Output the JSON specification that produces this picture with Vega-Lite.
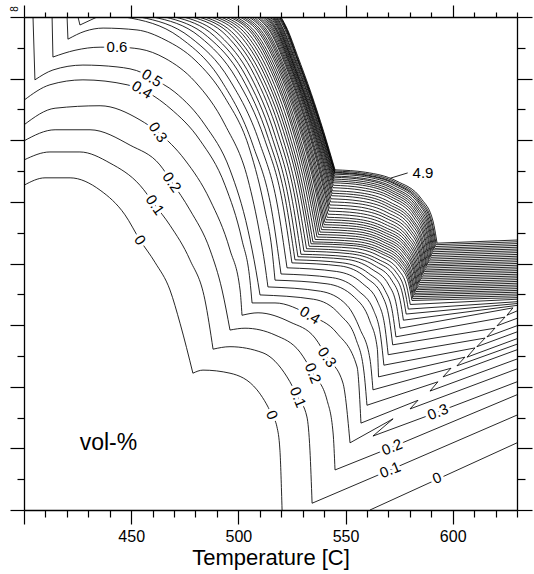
{
"$schema":"https://vega.github.io/schema/vega-lite/v6.json",
"width":493,"height":493,
"autosize":{"type":"none"},
"padding":{"left":24,"top":17,"right":17,"bottom":64},
"background":"white",
"config":{"view":{"stroke":null},"font":"Liberation Sans"},
"datasets":{
"s":[
{"k":"0a","x":400,"y":5.27},{"k":"0a","x":409.8,"y":5.39},{"k":"0a","x":421.5,"y":5.39},{"k":"0a","x":435.5,"y":5.19},{"k":"0a","x":447.1,"y":4.79},{"k":"0a","x":454.1,"y":4.38},{"k":"0a","x":461.1,"y":4.02},{"k":"0a","x":468.1,"y":3.57},{"k":"0a","x":472.8,"y":3.03},{"k":"0a","x":478.8,"y":2.22},
{"k":"0b","x":478.8,"y":2.22},{"k":"0b","x":483.5,"y":2.27},{"k":"0b","x":496.1,"y":2.22},{"k":"0b","x":508.7,"y":1.95},{"k":"0b","x":515.7,"y":1.54},{"k":"0b","x":518,"y":1.35},{"k":"0b","x":519.4,"y":0.97},{"k":"0b","x":520.4,"y":0},
{"k":"0.1a","x":400,"y":5.68},{"k":"0.1a","x":412.1,"y":5.81},{"k":"0.1a","x":426.1,"y":5.81},{"k":"0.1a","x":440.1,"y":5.63},{"k":"0.1a","x":454.1,"y":5.27},{"k":"0.1a","x":461.1,"y":4.95},{"k":"0.1a","x":468.1,"y":4.62},{"k":"0.1a","x":477.4,"y":4.06},{"k":"0.1a","x":484.4,"y":3.41},{"k":"0.1a","x":488.2,"y":2.61},
{"k":"0.1b","x":488.2,"y":2.61},{"k":"0.1b","x":496.1,"y":2.65},{"k":"0.1b","x":511.5,"y":2.55},{"k":"0.1b","x":522.7,"y":2.16},{"k":"0.1b","x":527.8,"y":1.83},{"k":"0.1b","x":532,"y":1.51},{"k":"0.1b","x":533.4,"y":0.97},{"k":"0.1b","x":534.4,"y":0.11},
{"k":"0.2a","x":400,"y":5.99},{"k":"0.2a","x":414.5,"y":6.17},{"k":"0.2a","x":430.8,"y":6.17},{"k":"0.2a","x":449.5,"y":5.92},{"k":"0.2a","x":463.4,"y":5.6},{"k":"0.2a","x":469,"y":5.32},{"k":"0.2a","x":477.4,"y":4.87},{"k":"0.2a","x":486.8,"y":4.22},{"k":"0.2a","x":492.4,"y":3.57},{"k":"0.2a","x":496.1,"y":2.92},
{"k":"0.2b","x":496.1,"y":2.92},{"k":"0.2b","x":503.1,"y":2.95},{"k":"0.2b","x":517.1,"y":2.84},{"k":"0.2b","x":528.8,"y":2.56},{"k":"0.2b","x":534.8,"y":2.22},{"k":"0.2b","x":541.4,"y":1.78},{"k":"0.2b","x":544.2,"y":1.25},{"k":"0.2b","x":545.1,"y":0.65},
{"k":"0.3a","x":400,"y":6.25},{"k":"0.3a","x":414.5,"y":6.52},{"k":"0.3a","x":435.5,"y":6.56},{"k":"0.3a","x":454.1,"y":6.33},{"k":"0.3a","x":462.5,"y":6.13},{"k":"0.3a","x":475.1,"y":5.68},{"k":"0.3a","x":486.8,"y":5.03},{"k":"0.3a","x":496.1,"y":4.22},{"k":"0.3a","x":500.8,"y":3.57},{"k":"0.3a","x":501.7,"y":3.16},
{"k":"0.3b","x":501.7,"y":3.16},{"k":"0.3b","x":509.2,"y":3.2},{"k":"0.3b","x":524.1,"y":3.05},{"k":"0.3b","x":535.8,"y":2.79},{"k":"0.3b","x":541.4,"y":2.48},{"k":"0.3b","x":548.8,"y":2.06},{"k":"0.3b","x":552.1,"y":1.09},
{"k":"0.4a","x":400,"y":6.65},{"k":"0.4a","x":412.1,"y":6.9},{"k":"0.4a","x":427.5,"y":6.98},{"k":"0.4a","x":448.1,"y":6.9},{"k":"0.4a","x":455.1,"y":6.82},{"k":"0.4a","x":468.1,"y":6.52},{"k":"0.4a","x":482.1,"y":6},{"k":"0.4a","x":493.8,"y":5.27},{"k":"0.4a","x":501.7,"y":4.38},{"k":"0.4a","x":505.4,"y":3.73},{"k":"0.4a","x":506.4,"y":3.36},
{"k":"0.4b","x":506.4,"y":3.36},{"k":"0.4b","x":517.1,"y":3.36},{"k":"0.4b","x":533.4,"y":3.16},{"k":"0.4b","x":546,"y":2.87},{"k":"0.4b","x":555.4,"y":2.32},{"k":"0.4b","x":557.2,"y":1.41},
{"k":"0.5a","x":405.1,"y":6.98},{"k":"0.5a","x":413.5,"y":7.14},{"k":"0.5a","x":427.5,"y":7.22},{"k":"0.5a","x":443.4,"y":7.19},{"k":"0.5a","x":455.5,"y":7.09},{"k":"0.5a","x":459.7,"y":7.01},{"k":"0.5a","x":470.4,"y":6.78},{"k":"0.5a","x":484.4,"y":6.25},{"k":"0.5a","x":496.1,"y":5.52},{"k":"0.5a","x":504.5,"y":4.54},{"k":"0.5a","x":508.2,"y":3.89},{"k":"0.5a","x":510.1,"y":3.49},
{"k":"0.5b","x":510.1,"y":3.49},{"k":"0.5b","x":535.1,"y":3.42},{"k":"0.5b","x":547.4,"y":3.17},{"k":"0.5b","x":554.9,"y":2.77},{"k":"0.5b","x":558.6,"y":2.24},{"k":"0.5b","x":560,"y":1.7},
{"k":"0.6a","x":413.5,"y":7.35},{"k":"0.6a","x":423.8,"y":7.46},{"k":"0.6a","x":435.5,"y":7.51},{"k":"0.6a","x":443.4,"y":7.51},{"k":"0.6a","x":454.1,"y":7.48},{"k":"0.6a","x":465.8,"y":7.33},{"k":"0.6a","x":479.8,"y":6.95},{"k":"0.6a","x":493.8,"y":6.25},{"k":"0.6a","x":504.5,"y":5.36},{"k":"0.6a","x":510.1,"y":4.46},{"k":"0.6a","x":512.4,"y":3.98},{"k":"0.6a","x":513.8,"y":3.62},
{"k":"0.6b","x":513.8,"y":3.62},{"k":"0.6b","x":538.3,"y":3.55},{"k":"0.6b","x":550.7,"y":3.32},{"k":"0.6b","x":556.7,"y":2.94},{"k":"0.6b","x":561.4,"y":2.45},{"k":"0.6b","x":562.8,"y":1.95},
{"k":"0.7a","x":420.5,"y":7.64},{"k":"0.7a","x":428.5,"y":7.77},{"k":"0.7a","x":436.9,"y":7.82},{"k":"0.7a","x":452.7,"y":7.79},{"k":"0.7a","x":465.8,"y":7.63},{"k":"0.7a","x":479.8,"y":7.3},{"k":"0.7a","x":493.8,"y":6.69},{"k":"0.7a","x":505.4,"y":5.84},{"k":"0.7a","x":512.4,"y":4.87},{"k":"0.7a","x":515.7,"y":4.22},{"k":"0.7a","x":517.1,"y":3.73},
{"k":"0.7b","x":517.1,"y":3.73},{"k":"0.7b","x":541.4,"y":3.67},{"k":"0.7b","x":554.2,"y":3.45},{"k":"0.7b","x":561.3,"y":3.07},{"k":"0.7b","x":564.8,"y":2.63},{"k":"0.7b","x":565.4,"y":2.16},
{"k":"0.8a","x":447.1,"y":8},{"k":"0.8a","x":472.6,"y":7.67},{"k":"0.8a","x":492.2,"y":6.96},{"k":"0.8a","x":506.8,"y":5.92},{"k":"0.8a","x":515.5,"y":4.87},{"k":"0.8a","x":519.9,"y":3.83},
{"k":"0.8b","x":519.9,"y":3.83},{"k":"0.8b","x":543.9,"y":3.77},{"k":"0.8b","x":555.9,"y":3.56},{"k":"0.8b","x":563.1,"y":3.24},{"k":"0.8b","x":566.5,"y":2.79},{"k":"0.8b","x":567.9,"y":2.35},
{"k":"0.9a","x":454.1,"y":8},{"k":"0.9a","x":477.6,"y":7.67},{"k":"0.9a","x":495.9,"y":6.98},{"k":"0.9a","x":509.8,"y":5.97},{"k":"0.9a","x":518.2,"y":4.95},{"k":"0.9a","x":522.7,"y":3.93},
{"k":"0.9b","x":522.7,"y":3.93},{"k":"0.9b","x":545.9,"y":3.87},{"k":"0.9b","x":557.8,"y":3.68},{"k":"0.9b","x":565.1,"y":3.37},{"k":"0.9b","x":568.5,"y":2.94},{"k":"0.9b","x":569.9,"y":2.52},
{"k":"1a","x":460.2,"y":8},{"k":"1a","x":482,"y":7.68},{"k":"1a","x":499.1,"y":7},{"k":"1a","x":512.3,"y":6.01},{"k":"1a","x":520.5,"y":5.01},{"k":"1a","x":525,"y":4.01},
{"k":"1b","x":525,"y":4.01},{"k":"1b","x":547.7,"y":3.96},{"k":"1b","x":559.6,"y":3.77},{"k":"1b","x":567.1,"y":3.48},{"k":"1b","x":570.5,"y":3.08},{"k":"1b","x":572,"y":2.68},
{"k":"1.1a","x":465.8,"y":8},{"k":"1.1a","x":485.7,"y":7.68},{"k":"1.1a","x":501.6,"y":7.02},{"k":"1.1a","x":514,"y":6.03},{"k":"1.1a","x":521.9,"y":5.05},{"k":"1.1a","x":526.4,"y":4.06},
{"k":"1.1b","x":526.4,"y":4.06},{"k":"1.1b","x":548.7,"y":4.01},{"k":"1.1b","x":560.8,"y":3.84},{"k":"1.1b","x":568.5,"y":3.56},{"k":"1.1b","x":572,"y":3.19},{"k":"1.1b","x":573.5,"y":2.81},
{"k":"1.2a","x":470.4,"y":8},{"k":"1.2a","x":488.8,"y":7.69},{"k":"1.2a","x":503.7,"y":7.03},{"k":"1.2a","x":515.6,"y":6.06},{"k":"1.2a","x":523.3,"y":5.08},{"k":"1.2a","x":527.8,"y":4.11},
{"k":"1.2b","x":527.8,"y":4.11},{"k":"1.2b","x":549.9,"y":4.07},{"k":"1.2b","x":562.2,"y":3.91},{"k":"1.2b","x":570.2,"y":3.65},{"k":"1.2b","x":573.9,"y":3.3},{"k":"1.2b","x":575.4,"y":2.95},
{"k":"1.3a","x":474.6,"y":8},{"k":"1.3a","x":491.7,"y":7.69},{"k":"1.3a","x":505.7,"y":7.04},{"k":"1.3a","x":517.1,"y":6.08},{"k":"1.3a","x":524.7,"y":5.11},{"k":"1.3a","x":529.2,"y":4.15},
{"k":"1.3b","x":529.2,"y":4.15},{"k":"1.3b","x":550.9,"y":4.11},{"k":"1.3b","x":563.4,"y":3.97},{"k":"1.3b","x":571.7,"y":3.72},{"k":"1.3b","x":575.5,"y":3.4},{"k":"1.3b","x":577,"y":3.08},
{"k":"1.4a","x":478.4,"y":8},{"k":"1.4a","x":494.4,"y":7.7},{"k":"1.4a","x":507.6,"y":7.05},{"k":"1.4a","x":518.6,"y":6.1},{"k":"1.4a","x":526,"y":5.15},{"k":"1.4a","x":530.6,"y":4.2},
{"k":"1.4b","x":530.6,"y":4.2},{"k":"1.4b","x":551.8,"y":4.16},{"k":"1.4b","x":564.4,"y":4.025},{"k":"1.4b","x":572.9,"y":3.79},{"k":"1.4b","x":576.7,"y":3.49},{"k":"1.4b","x":578.3,"y":3.18},
{"k":"1.5a","x":481.6,"y":8},{"k":"1.5a","x":496.7,"y":7.7},{"k":"1.5a","x":509.2,"y":7.06},{"k":"1.5a","x":519.9,"y":6.12},{"k":"1.5a","x":527.1,"y":5.18},{"k":"1.5a","x":531.8,"y":4.24},
{"k":"1.5b","x":531.8,"y":4.24},{"k":"1.5b","x":552.5,"y":4.2},{"k":"1.5b","x":565.1,"y":4.07},{"k":"1.5b","x":573.8,"y":3.85},{"k":"1.5b","x":577.7,"y":3.55},{"k":"1.5b","x":579.3,"y":3.26},
{"k":"1.6a","x":484.4,"y":8},{"k":"1.6a","x":498.6,"y":7.7},{"k":"1.6a","x":510.6,"y":7.07},{"k":"1.6a","x":521.1,"y":6.14},{"k":"1.6a","x":528.3,"y":5.21},{"k":"1.6a","x":533,"y":4.28},
{"k":"1.6b","x":533,"y":4.28},{"k":"1.6b","x":553.2,"y":4.25},{"k":"1.6b","x":565.8,"y":4.12},{"k":"1.6b","x":574.6,"y":3.9},{"k":"1.6b","x":578.6,"y":3.62},{"k":"1.6b","x":580.2,"y":3.335},
{"k":"1.7a","x":487.2,"y":8},{"k":"1.7a","x":500.5,"y":7.71},{"k":"1.7a","x":512,"y":7.08},{"k":"1.7a","x":522.1,"y":6.16},{"k":"1.7a","x":529.1,"y":5.24},{"k":"1.7a","x":533.9,"y":4.32},
{"k":"1.7b","x":533.9,"y":4.32},{"k":"1.7b","x":553.6,"y":4.29},{"k":"1.7b","x":566.4,"y":4.165},{"k":"1.7b","x":575.3,"y":3.95},{"k":"1.7b","x":579.4,"y":3.68},{"k":"1.7b","x":581,"y":3.4},
{"k":"1.8a","x":489.6,"y":8},{"k":"1.8a","x":502.2,"y":7.71},{"k":"1.8a","x":513.1,"y":7.09},{"k":"1.8a","x":523,"y":6.18},{"k":"1.8a","x":530,"y":5.26},{"k":"1.8a","x":534.8,"y":4.35},
{"k":"1.8b","x":534.8,"y":4.35},{"k":"1.8b","x":553.9,"y":4.32},{"k":"1.8b","x":566.6,"y":4.2},{"k":"1.8b","x":575.7,"y":3.98},{"k":"1.8b","x":579.8,"y":3.71},{"k":"1.8b","x":581.4,"y":3.43},
{"k":"1.9a","x":491.9,"y":8},{"k":"1.9a","x":503.8,"y":7.71},{"k":"1.9a","x":514.3,"y":7.1},{"k":"1.9a","x":524,"y":6.2},{"k":"1.9a","x":530.9,"y":5.29},{"k":"1.9a","x":535.8,"y":4.39},
{"k":"1.9b","x":535.8,"y":4.39},{"k":"1.9b","x":554.2,"y":4.36},{"k":"1.9b","x":566.8,"y":4.24},{"k":"1.9b","x":576,"y":4.02},{"k":"1.9b","x":580.1,"y":3.74},{"k":"1.9b","x":581.7,"y":3.46},
{"k":"2a","x":494,"y":8},{"k":"2a","x":505.3,"y":7.71},{"k":"2a","x":515.4,"y":7.11},{"k":"2a","x":524.9,"y":6.22},{"k":"2a","x":531.7,"y":5.32},{"k":"2a","x":536.7,"y":4.43},
{"k":"2b","x":536.7,"y":4.43},{"k":"2b","x":554.5,"y":4.4},{"k":"2b","x":567,"y":4.28},{"k":"2b","x":576.3,"y":4.05},{"k":"2b","x":580.5,"y":3.77},{"k":"2b","x":582.1,"y":3.49},
{"k":"2.1a","x":495.9,"y":8},{"k":"2.1a","x":506.6,"y":7.72},{"k":"2.1a","x":516.2,"y":7.12},{"k":"2.1a","x":525.5,"y":6.235},{"k":"2.1a","x":532.4,"y":5.35},{"k":"2.1a","x":537.4,"y":4.47},
{"k":"2.1b","x":537.4,"y":4.47},{"k":"2.1b","x":554.6,"y":4.44},{"k":"2.1b","x":567.2,"y":4.315},{"k":"2.1b","x":576.6,"y":4.09},{"k":"2.1b","x":580.8,"y":3.8},{"k":"2.1b","x":582.45,"y":3.515},
{"k":"2.2a","x":497.5,"y":8},{"k":"2.2a","x":507.6,"y":7.72},{"k":"2.2a","x":517,"y":7.13},{"k":"2.2a","x":526.2,"y":6.255},{"k":"2.2a","x":533,"y":5.38},{"k":"2.2a","x":538.1,"y":4.51},
{"k":"2.2b","x":538.1,"y":4.51},{"k":"2.2b","x":554.8,"y":4.48},{"k":"2.2b","x":567.4,"y":4.355},{"k":"2.2b","x":576.9,"y":4.12},{"k":"2.2b","x":581.2,"y":3.83},{"k":"2.2b","x":582.8,"y":3.545},
{"k":"2.3a","x":499.1,"y":8},{"k":"2.3a","x":508.7,"y":7.72},{"k":"2.3a","x":517.8,"y":7.14},{"k":"2.3a","x":526.8,"y":6.275},{"k":"2.3a","x":533.6,"y":5.41},{"k":"2.3a","x":538.8,"y":4.55},
{"k":"2.3b","x":538.8,"y":4.55},{"k":"2.3b","x":555,"y":4.52},{"k":"2.3b","x":567.6,"y":4.39},{"k":"2.3b","x":577.3,"y":4.16},{"k":"2.3b","x":581.6,"y":3.87},{"k":"2.3b","x":583.2,"y":3.575},
{"k":"2.4a","x":500.8,"y":8},{"k":"2.4a","x":509.9,"y":7.73},{"k":"2.4a","x":518.6,"y":7.15},{"k":"2.4a","x":527.5,"y":6.295},{"k":"2.4a","x":534.3,"y":5.44},{"k":"2.4a","x":539.5,"y":4.59},
{"k":"2.4b","x":539.5,"y":4.59},{"k":"2.4b","x":555.1,"y":4.56},{"k":"2.4b","x":567.7,"y":4.43},{"k":"2.4b","x":577.6,"y":4.19},{"k":"2.4b","x":581.9,"y":3.9},{"k":"2.4b","x":583.55,"y":3.6},
{"k":"2.5a","x":502.2,"y":8},{"k":"2.5a","x":510.8,"y":7.73},{"k":"2.5a","x":519.2,"y":7.16},{"k":"2.5a","x":528,"y":6.315},{"k":"2.5a","x":534.7,"y":5.47},{"k":"2.5a","x":540,"y":4.63},
{"k":"2.5b","x":540,"y":4.63},{"k":"2.5b","x":555.1,"y":4.6},{"k":"2.5b","x":567.8,"y":4.47},{"k":"2.5b","x":577.8,"y":4.23},{"k":"2.5b","x":582.2,"y":3.93},{"k":"2.5b","x":583.9,"y":3.63},
{"k":"2.6a","x":503.6,"y":8},{"k":"2.6a","x":511.7,"y":7.73},{"k":"2.6a","x":519.8,"y":7.17},{"k":"2.6a","x":528.4,"y":6.335},{"k":"2.6a","x":535.1,"y":5.5},{"k":"2.6a","x":540.4,"y":4.67},
{"k":"2.6b","x":540.4,"y":4.67},{"k":"2.6b","x":555.15,"y":4.64},{"k":"2.6b","x":567.9,"y":4.51},{"k":"2.6b","x":578.1,"y":4.27},{"k":"2.6b","x":582.6,"y":3.96},{"k":"2.6b","x":584.3,"y":3.66},
{"k":"2.7a","x":505,"y":8},{"k":"2.7a","x":512.6,"y":7.74},{"k":"2.7a","x":520.4,"y":7.18},{"k":"2.7a","x":528.9,"y":6.355},{"k":"2.7a","x":535.6,"y":5.53},{"k":"2.7a","x":540.9,"y":4.71},
{"k":"2.7b","x":540.9,"y":4.71},{"k":"2.7b","x":555.2,"y":4.68},{"k":"2.7b","x":568,"y":4.55},{"k":"2.7b","x":578.4,"y":4.3},{"k":"2.7b","x":582.9,"y":4},{"k":"2.7b","x":584.65,"y":3.69},
{"k":"2.8a","x":506.1,"y":8},{"k":"2.8a","x":513.4,"y":7.74},{"k":"2.8a","x":520.9,"y":7.19},{"k":"2.8a","x":529.3,"y":6.375},{"k":"2.8a","x":536,"y":5.56},{"k":"2.8a","x":541.4,"y":4.75},
{"k":"2.8b","x":541.4,"y":4.75},{"k":"2.8b","x":555.3,"y":4.72},{"k":"2.8b","x":568.2,"y":4.59},{"k":"2.8b","x":578.7,"y":4.34},{"k":"2.8b","x":583.3,"y":4.03},{"k":"2.8b","x":585,"y":3.72},
{"k":"2.9a","x":507.3,"y":8},{"k":"2.9a","x":514.2,"y":7.74},{"k":"2.9a","x":521.4,"y":7.2},{"k":"2.9a","x":529.7,"y":6.4},{"k":"2.9a","x":536.3,"y":5.6},{"k":"2.9a","x":541.8,"y":4.8},
{"k":"2.9b","x":541.8,"y":4.8},{"k":"2.9b","x":555.3,"y":4.77},{"k":"2.9b","x":568.3,"y":4.64},{"k":"2.9b","x":578.9,"y":4.38},{"k":"2.9b","x":583.7,"y":4.065},{"k":"2.9b","x":585.4,"y":3.75},
{"k":"3a","x":508.5,"y":8},{"k":"3a","x":515,"y":7.75},{"k":"3a","x":522,"y":7.21},{"k":"3a","x":530.1,"y":6.425},{"k":"3a","x":536.7,"y":5.64},{"k":"3a","x":542.2,"y":4.85},
{"k":"3b","x":542.2,"y":4.85},{"k":"3b","x":555.25,"y":4.82},{"k":"3b","x":568.3,"y":4.69},{"k":"3b","x":579.2,"y":4.42},{"k":"3b","x":584,"y":4.1},{"k":"3b","x":585.7,"y":3.78},
{"k":"3.1a","x":509.4,"y":8},{"k":"3.1a","x":515.5,"y":7.75},{"k":"3.1a","x":522.3,"y":7.225},{"k":"3.1a","x":530.3,"y":6.45},{"k":"3.1a","x":536.9,"y":5.675},{"k":"3.1a","x":542.4,"y":4.9},
{"k":"3.1b","x":542.4,"y":4.9},{"k":"3.1b","x":555.5,"y":4.87},{"k":"3.1b","x":568.6,"y":4.74},{"k":"3.1b","x":579.5,"y":4.46},{"k":"3.1b","x":584.4,"y":4.14},{"k":"3.1b","x":586.1,"y":3.81},
{"k":"3.2a","x":510.3,"y":8},{"k":"3.2a","x":516.05,"y":7.76},{"k":"3.2a","x":522.6,"y":7.24},{"k":"3.2a","x":530.55,"y":6.475},{"k":"3.2a","x":537.1,"y":5.71},{"k":"3.2a","x":542.7,"y":4.95},
{"k":"3.2b","x":542.7,"y":4.95},{"k":"3.2b","x":555.8,"y":4.92},{"k":"3.2b","x":569,"y":4.78},{"k":"3.2b","x":579.9,"y":4.51},{"k":"3.2b","x":584.7,"y":4.17},{"k":"3.2b","x":586.5,"y":3.84},
{"k":"3.3a","x":511.3,"y":8},{"k":"3.3a","x":516.7,"y":7.76},{"k":"3.3a","x":523,"y":7.25},{"k":"3.3a","x":530.9,"y":6.5},{"k":"3.3a","x":537.4,"y":5.75},{"k":"3.3a","x":543,"y":5},
{"k":"3.3b","x":543,"y":5},{"k":"3.3b","x":556.1,"y":4.97},{"k":"3.3b","x":569.3,"y":4.83},{"k":"3.3b","x":580.2,"y":4.55},{"k":"3.3b","x":585,"y":4.21},{"k":"3.3b","x":586.8,"y":3.87},
{"k":"3.4a","x":512.2,"y":8},{"k":"3.4a","x":517.25,"y":7.76},{"k":"3.4a","x":523.4,"y":7.26},{"k":"3.4a","x":531.1,"y":6.525},{"k":"3.4a","x":537.6,"y":5.79},{"k":"3.4a","x":543.2,"y":5.05},
{"k":"3.4b","x":543.2,"y":5.05},{"k":"3.4b","x":556.4,"y":5.015},{"k":"3.4b","x":569.6,"y":4.88},{"k":"3.4b","x":580.6,"y":4.59},{"k":"3.4b","x":585.4,"y":4.24},{"k":"3.4b","x":587.2,"y":3.895},
{"k":"3.5a","x":512.9,"y":8},{"k":"3.5a","x":517.7,"y":7.77},{"k":"3.5a","x":523.6,"y":7.275},{"k":"3.5a","x":531.3,"y":6.55},{"k":"3.5a","x":537.8,"y":5.825},{"k":"3.5a","x":543.5,"y":5.1},
{"k":"3.5b","x":543.5,"y":5.1},{"k":"3.5b","x":556.7,"y":5.065},{"k":"3.5b","x":570,"y":4.92},{"k":"3.5b","x":581,"y":4.63},{"k":"3.5b","x":585.8,"y":4.28},{"k":"3.5b","x":587.6,"y":3.925},
{"k":"3.6a","x":513.6,"y":8},{"k":"3.6a","x":518.1,"y":7.77},{"k":"3.6a","x":523.8,"y":7.285},{"k":"3.6a","x":531.4,"y":6.57},{"k":"3.6a","x":537.95,"y":5.855},{"k":"3.6a","x":543.7,"y":5.14},
{"k":"3.6b","x":543.7,"y":5.14},{"k":"3.6b","x":557,"y":5.105},{"k":"3.6b","x":570.2,"y":4.96},{"k":"3.6b","x":581.3,"y":4.67},{"k":"3.6b","x":586.1,"y":4.31},{"k":"3.6b","x":587.9,"y":3.955},
{"k":"3.7a","x":514.3,"y":8},{"k":"3.7a","x":518.5,"y":7.77},{"k":"3.7a","x":524.1,"y":7.295},{"k":"3.7a","x":531.6,"y":6.59},{"k":"3.7a","x":538.1,"y":5.885},{"k":"3.7a","x":543.9,"y":5.18},
{"k":"3.7b","x":543.9,"y":5.18},{"k":"3.7b","x":557.2,"y":5.145},{"k":"3.7b","x":570.5,"y":5},{"k":"3.7b","x":581.6,"y":4.7},{"k":"3.7b","x":586.5,"y":4.34},{"k":"3.7b","x":588.3,"y":3.98},
{"k":"3.8a","x":515,"y":8},{"k":"3.8a","x":518.9,"y":7.78},{"k":"3.8a","x":524.3,"y":7.31},{"k":"3.8a","x":531.8,"y":6.615},{"k":"3.8a","x":538.25,"y":5.92},{"k":"3.8a","x":544.1,"y":5.23},
{"k":"3.8b","x":544.1,"y":5.23},{"k":"3.8b","x":557.5,"y":5.19},{"k":"3.8b","x":570.9,"y":5.05},{"k":"3.8b","x":582,"y":4.74},{"k":"3.8b","x":586.9,"y":4.38},{"k":"3.8b","x":588.7,"y":4.01},
{"k":"3.9a","x":515.7,"y":8},{"k":"3.9a","x":519.3,"y":7.78},{"k":"3.9a","x":524.6,"y":7.32},{"k":"3.9a","x":531.9,"y":6.635},{"k":"3.9a","x":538.4,"y":5.95},{"k":"3.9a","x":544.3,"y":5.27},
{"k":"3.9b","x":544.3,"y":5.27},{"k":"3.9b","x":557.7,"y":5.23},{"k":"3.9b","x":571.1,"y":5.085},{"k":"3.9b","x":582.3,"y":4.78},{"k":"3.9b","x":587.2,"y":4.41},{"k":"3.9b","x":589,"y":4.04},
{"k":"4a","x":516.2,"y":8},{"k":"4a","x":519.6,"y":7.785},{"k":"4a","x":524.7,"y":7.33},{"k":"4a","x":532,"y":6.655},{"k":"4a","x":538.5,"y":5.98},{"k":"4a","x":544.4,"y":5.31},
{"k":"4b","x":544.4,"y":5.31},{"k":"4b","x":557.9,"y":5.27},{"k":"4b","x":571.4,"y":5.12},{"k":"4b","x":582.65,"y":4.81},{"k":"4b","x":587.6,"y":4.44},{"k":"4b","x":589.4,"y":4.07},
{"k":"4.1a","x":516.6,"y":8},{"k":"4.1a","x":519.95,"y":7.79},{"k":"4.1a","x":525,"y":7.335},{"k":"4.1a","x":532.2,"y":6.67},{"k":"4.1a","x":538.6,"y":6.005},{"k":"4.1a","x":544.5,"y":5.34},
{"k":"4.1b","x":544.5,"y":5.34},{"k":"4.1b","x":558.1,"y":5.3},{"k":"4.1b","x":571.7,"y":5.15},{"k":"4.1b","x":583,"y":4.84},{"k":"4.1b","x":588,"y":4.47},{"k":"4.1b","x":589.8,"y":4.1},
{"k":"4.2a","x":517.1,"y":8},{"k":"4.2a","x":520.4,"y":7.79},{"k":"4.2a","x":525.35,"y":7.34},{"k":"4.2a","x":532.5,"y":6.685},{"k":"4.2a","x":538.8,"y":6.03},{"k":"4.2a","x":544.6,"y":5.37},
{"k":"4.2b","x":544.6,"y":5.37},{"k":"4.2b","x":558.25,"y":5.33},{"k":"4.2b","x":571.9,"y":5.18},{"k":"4.2b","x":583.3,"y":4.87},{"k":"4.2b","x":588.3,"y":4.5},{"k":"4.2b","x":590.1,"y":4.13},
{"k":"4.3a","x":517.6,"y":8},{"k":"4.3a","x":520.85,"y":7.79},{"k":"4.3a","x":525.7,"y":7.35},{"k":"4.3a","x":532.8,"y":6.7},{"k":"4.3a","x":539,"y":6.05},{"k":"4.3a","x":544.7,"y":5.4},
{"k":"4.3b","x":544.7,"y":5.4},{"k":"4.3b","x":558.4,"y":5.36},{"k":"4.3b","x":572.2,"y":5.21},{"k":"4.3b","x":583.6,"y":4.9},{"k":"4.3b","x":588.7,"y":4.53},{"k":"4.3b","x":590.5,"y":4.16},
{"k":"4.4a","x":518,"y":8},{"k":"4.4a","x":521.2,"y":7.79},{"k":"4.4a","x":526,"y":7.355},{"k":"4.4a","x":533,"y":6.71},{"k":"4.4a","x":539.2,"y":6.065},{"k":"4.4a","x":544.8,"y":5.42},
{"k":"4.4b","x":544.8,"y":5.42},{"k":"4.4b","x":558.6,"y":5.38},{"k":"4.4b","x":572.4,"y":5.235},{"k":"4.4b","x":583.9,"y":4.93},{"k":"4.4b","x":589,"y":4.56},{"k":"4.4b","x":590.85,"y":4.19},
{"k":"4.5a","x":518.5,"y":8},{"k":"4.5a","x":521.7,"y":7.8},{"k":"4.5a","x":526.4,"y":7.36},{"k":"4.5a","x":533.3,"y":6.725},{"k":"4.5a","x":539.4,"y":6.09},{"k":"4.5a","x":544.9,"y":5.45},
{"k":"4.5b","x":544.9,"y":5.45},{"k":"4.5b","x":558.8,"y":5.41},{"k":"4.5b","x":572.7,"y":5.265},{"k":"4.5b","x":584.3,"y":4.96},{"k":"4.5b","x":589.3,"y":4.59},{"k":"4.5b","x":591.2,"y":4.22},
{"k":"4.6a","x":519,"y":8},{"k":"4.6a","x":522.1,"y":7.8},{"k":"4.6a","x":526.8,"y":7.37},{"k":"4.6a","x":533.5,"y":6.735},{"k":"4.6a","x":539.5,"y":6.1},{"k":"4.6a","x":544.95,"y":5.47},
{"k":"4.6b","x":544.95,"y":5.47},{"k":"4.6b","x":558.9,"y":5.43},{"k":"4.6b","x":572.9,"y":5.29},{"k":"4.6b","x":584.6,"y":4.98},{"k":"4.6b","x":589.7,"y":4.61},{"k":"4.6b","x":591.6,"y":4.245},
{"k":"4.7a","x":519.3,"y":8},{"k":"4.7a","x":522.4,"y":7.8},{"k":"4.7a","x":527,"y":7.37},{"k":"4.7a","x":533.7,"y":6.74},{"k":"4.7a","x":539.6,"y":6.11},{"k":"4.7a","x":545,"y":5.48},
{"k":"4.7b","x":545,"y":5.48},{"k":"4.7b","x":559.1,"y":5.44},{"k":"4.7b","x":573.2,"y":5.3},{"k":"4.7b","x":584.9,"y":5},{"k":"4.7b","x":590.1,"y":4.64},{"k":"4.7b","x":591.95,"y":4.275},
{"k":"4.8a","x":519.6,"y":8},{"k":"4.8a","x":522.65,"y":7.8},{"k":"4.8a","x":527.2,"y":7.375},{"k":"4.8a","x":533.8,"y":6.75},{"k":"4.8a","x":539.7,"y":6.125},{"k":"4.8a","x":545.05,"y":5.5},
{"k":"4.8b","x":545.05,"y":5.5},{"k":"4.8b","x":559.2,"y":5.46},{"k":"4.8b","x":573.4,"y":5.32},{"k":"4.8b","x":585.2,"y":5.02},{"k":"4.8b","x":590.4,"y":4.66},{"k":"4.8b","x":592.3,"y":4.305},
{"k":"4.9a","x":519.9,"y":8},{"k":"4.9a","x":522.9,"y":7.8},{"k":"4.9a","x":527.5,"y":7.38},{"k":"4.9a","x":534,"y":6.76},{"k":"4.9a","x":539.8,"y":6.14},{"k":"4.9a","x":545.1,"y":5.52},
{"k":"4.9b","x":545.1,"y":5.52},{"k":"4.9b","x":559.4,"y":5.48},{"k":"4.9b","x":573.7,"y":5.34},{"k":"4.9b","x":585.6,"y":5.04},{"k":"4.9b","x":590.8,"y":4.69},{"k":"4.9b","x":592.7,"y":4.33}
],
"l":[
{"k":"0r","x":561.4,"y":0},{"k":"0r","x":630,"y":1.09},
{"k":"0.1","x":534.4,"y":0.11},{"k":"0.1","x":570.8,"y":0.65},{"k":"0.1","x":630,"y":1.54},
{"k":"0.2","x":545.1,"y":0.65},{"k":"0.2","x":571.7,"y":1.02},{"k":"0.2","x":630,"y":1.87},
{"k":"0.3","x":552.1,"y":1.09},{"k":"0.3","x":572.2,"y":1.48},{"k":"0.3","x":562.8,"y":1.2},{"k":"0.3","x":593.1,"y":1.59},{"k":"0.3","x":630,"y":2.08},
{"k":"0.4","x":557.2,"y":1.41},{"k":"0.4","x":583.8,"y":1.78},{"k":"0.4","x":580.1,"y":1.64},{"k":"0.4","x":630,"y":2.29},
{"k":"0.5","x":560,"y":1.7},{"k":"0.5","x":593.1,"y":2.08},{"k":"0.5","x":589.4,"y":1.93},{"k":"0.5","x":630,"y":2.45},
{"k":"0.5v","x":404.2,"y":8},{"k":"0.5v","x":405.1,"y":6.98},
{"k":"0.6","x":562.8,"y":1.95},{"k":"0.6","x":599.2,"y":2.3},{"k":"0.6","x":595.5,"y":2.16},{"k":"0.6","x":630,"y":2.6},
{"k":"0.6v","x":413.1,"y":8},{"k":"0.6v","x":413.5,"y":7.35},
{"k":"0.7","x":565.4,"y":2.16},{"k":"0.7","x":605.7,"y":2.48},{"k":"0.7","x":602,"y":2.34},{"k":"0.7","x":630,"y":2.69},
{"k":"0.7v","x":420.1,"y":8},{"k":"0.7v","x":420.5,"y":7.64},
{"k":"0.8s","x":425.2,"y":8},{"k":"0.8s","x":426.1,"y":7.87},{"k":"0.8s","x":434.1,"y":8},
{"k":"0.8","x":567.9,"y":2.35},{"k":"0.8","x":610.4,"y":2.63},{"k":"0.8","x":606.7,"y":2.48},{"k":"0.8","x":630,"y":2.78},
{"k":"0.9","x":569.9,"y":2.52},{"k":"0.9","x":615.1,"y":2.79},{"k":"0.9","x":611.3,"y":2.65},{"k":"0.9","x":630,"y":2.89},
{"k":"1","x":572,"y":2.68},{"k":"1","x":619.7,"y":2.95},{"k":"1","x":616,"y":2.81},{"k":"1","x":630,"y":2.99},
{"k":"1.1","x":573.5,"y":2.81},{"k":"1.1","x":624.4,"y":3.13},{"k":"1.1","x":620.7,"y":2.99},{"k":"1.1","x":630,"y":3.11},
{"k":"1.2","x":575.4,"y":2.95},{"k":"1.2","x":628.1,"y":3.28},{"k":"1.2","x":625.3,"y":3.16},{"k":"1.2","x":630,"y":3.23},
{"k":"1.3","x":577,"y":3.08},{"k":"1.3","x":630,"y":3.32},
{"k":"1.4","x":578.3,"y":3.18},{"k":"1.4","x":630,"y":3.35},
{"k":"1.5","x":579.3,"y":3.26},{"k":"1.5","x":630,"y":3.38},
{"k":"1.6","x":580.2,"y":3.335},{"k":"1.6","x":630,"y":3.42},
{"k":"1.7","x":581,"y":3.4},{"k":"1.7","x":630,"y":3.446},
{"k":"1.8","x":581.4,"y":3.43},{"k":"1.8","x":630,"y":3.476},
{"k":"1.9","x":581.7,"y":3.46},{"k":"1.9","x":630,"y":3.505},
{"k":"2","x":582.1,"y":3.49},{"k":"2","x":630,"y":3.534},
{"k":"2.1","x":582.45,"y":3.515},{"k":"2.1","x":630,"y":3.563},
{"k":"2.2","x":582.8,"y":3.545},{"k":"2.2","x":630,"y":3.592},
{"k":"2.3","x":583.2,"y":3.575},{"k":"2.3","x":630,"y":3.622},
{"k":"2.4","x":583.55,"y":3.6},{"k":"2.4","x":630,"y":3.651},
{"k":"2.5","x":583.9,"y":3.63},{"k":"2.5","x":630,"y":3.68},
{"k":"2.6","x":584.3,"y":3.66},{"k":"2.6","x":630,"y":3.709},
{"k":"2.7","x":584.65,"y":3.69},{"k":"2.7","x":630,"y":3.738},
{"k":"2.8","x":585,"y":3.72},{"k":"2.8","x":630,"y":3.768},
{"k":"2.9","x":585.4,"y":3.75},{"k":"2.9","x":630,"y":3.797},
{"k":"3","x":585.7,"y":3.78},{"k":"3","x":630,"y":3.826},
{"k":"3.1","x":586.1,"y":3.81},{"k":"3.1","x":630,"y":3.855},
{"k":"3.2","x":586.5,"y":3.84},{"k":"3.2","x":630,"y":3.884},
{"k":"3.3","x":586.8,"y":3.87},{"k":"3.3","x":630,"y":3.914},
{"k":"3.4","x":587.2,"y":3.895},{"k":"3.4","x":630,"y":3.943},
{"k":"3.5","x":587.6,"y":3.925},{"k":"3.5","x":630,"y":3.972},
{"k":"3.6","x":587.9,"y":3.955},{"k":"3.6","x":630,"y":4.001},
{"k":"3.7","x":588.3,"y":3.98},{"k":"3.7","x":630,"y":4.03},
{"k":"3.8","x":588.7,"y":4.01},{"k":"3.8","x":630,"y":4.06},
{"k":"3.9","x":589,"y":4.04},{"k":"3.9","x":630,"y":4.089},
{"k":"4","x":589.4,"y":4.07},{"k":"4","x":630,"y":4.118},
{"k":"4.1","x":589.8,"y":4.1},{"k":"4.1","x":630,"y":4.147},
{"k":"4.2","x":590.1,"y":4.13},{"k":"4.2","x":630,"y":4.177},
{"k":"4.3","x":590.5,"y":4.16},{"k":"4.3","x":630,"y":4.206},
{"k":"4.4","x":590.85,"y":4.19},{"k":"4.4","x":630,"y":4.235},
{"k":"4.5","x":591.2,"y":4.22},{"k":"4.5","x":630,"y":4.264},
{"k":"4.6","x":591.6,"y":4.245},{"k":"4.6","x":630,"y":4.293},
{"k":"4.7","x":591.95,"y":4.275},{"k":"4.7","x":630,"y":4.323},
{"k":"4.8","x":592.3,"y":4.305},{"k":"4.8","x":630,"y":4.352},
{"k":"4.9","x":592.7,"y":4.33},{"k":"4.9","x":630,"y":4.381},
{"k":"lead","x":571,"y":5.385},{"k":"lead","x":579,"y":5.47}
],
"lab":[
{"t":"0.6","x":443.4,"y":7.51,"g":"h"},
{"t":"0.5","x":459.7,"y":7.01,"g":"a32"},
{"t":"0.4","x":455.1,"y":6.82,"g":"a32"},
{"t":"0.4","x":533.4,"y":3.16,"g":"a32"},
{"t":"0.3","x":462.5,"y":6.13,"g":"a55"},
{"t":"0.2","x":469,"y":5.32,"g":"a55"},
{"t":"0.1","x":461.1,"y":4.95,"g":"a55"},
{"t":"0","x":454.1,"y":4.38,"g":"a55"},
{"t":"0.3","x":541.4,"y":2.48,"g":"a55"},
{"t":"0.2","x":534.8,"y":2.22,"g":"a68"},
{"t":"0.1","x":527.8,"y":1.83,"g":"a68"},
{"t":"0","x":515.7,"y":1.54,"g":"a68"},
{"t":"0.3","x":593.1,"y":1.59,"g":"r"},
{"t":"0.2","x":571.7,"y":1.02,"g":"r"},
{"t":"0.1","x":570.8,"y":0.65,"g":"r"},
{"t":"0","x":592.7,"y":0.52,"g":"r"}
]
},
"resolve":{"axis":{"x":"independent","y":"independent"}},
"layer":[
{
"data":{"name":"s"},
"mark":{"type":"line","color":"black","strokeWidth":0.85,"clip":true,"order":false,"interpolate":"monotone"},
"encoding":{
"x":{"field":"x","type":"quantitative","scale":{"domain":[400,630],"nice":false,"zero":false},
"axis":{"orient":"bottom","values":[400,410,420,430,440,450,460,470,480,490,500,510,520,530,540,550,560,570,580,590,600,610,620,630],"format":"d","labelExpr":"datum.value % 50 === 0 && datum.value > 400 ? datum.label : ''","tickSize":{"condition":{"test":"datum.value % 50 === 0","value":14},"value":7},"tickColor":"black","tickWidth":1.2,"domainColor":"black","domainWidth":1.3,"labelFontSize":16,"labelFont":"Liberation Sans","labelColor":"black","labelPadding":4,"labelFlush":false,"labelOverlap":false,"grid":false,"title":"Temperature [C]","titleFont":"Liberation Sans","titleFontSize":22,"titleFontWeight":"normal","titleColor":"black","titleBaseline":"alphabetic","titleY":54}},
"y":{"field":"y","type":"quantitative","scale":{"domain":[0,8],"nice":false,"zero":false},
"axis":{"orient":"left","values":[0,0.5,1,1.5,2,2.5,3,3.5,4,4.5,5,5.5,6,6.5,7,7.5,8],"labels":false,"tickSize":{"condition":{"test":"datum.value % 1 === 0","value":14},"value":7},"tickColor":"black","tickWidth":1.2,"domainColor":"black","domainWidth":1.3,"grid":false,"title":null}},
"detail":{"field":"k","type":"nominal"}
}
},
{
"data":{"name":"l"},
"mark":{"type":"line","color":"black","strokeWidth":0.85,"clip":true,"order":false},
"encoding":{
"x":{"field":"x","type":"quantitative","axis":null},
"y":{"field":"y","type":"quantitative","axis":null},
"detail":{"field":"k","type":"nominal"}
}
},
{
"data":{"values":[{"t":"vol-%","x":439.4,"y":0.97}]},
"mark":{"type":"text","fontSize":23,"font":"Liberation Sans","color":"black","align":"center","baseline":"alphabetic"},
"encoding":{
"x":{"field":"x","type":"quantitative","axis":{"orient":"top","values":[400,410,420,430,440,450,460,470,480,490,500,510,520,530,540,550,560,570,580,590,600,610,620,630],"labels":false,"tickSize":{"condition":{"test":"datum.value % 50 === 0","value":12},"value":5},"tickColor":"black","tickWidth":1.2,"domainColor":"black","domainWidth":1.3,"grid":false,"title":null}},
"y":{"field":"y","type":"quantitative","axis":{"orient":"right","values":[0,0.5,1,1.5,2,2.5,3,3.5,4,4.5,5,5.5,6,6.5,7,7.5,8],"labels":false,"tickSize":{"condition":{"test":"datum.value % 1 === 0","value":15},"value":8},"tickColor":"black","tickWidth":1.2,"domainColor":"black","domainWidth":1.3,"grid":false,"title":null}},
"text":{"field":"t"}
}
},
{
"data":{"values":[{"t":"4.9","x":581.3,"y":5.47}]},
"mark":{"type":"text","fontSize":15,"font":"Liberation Sans","color":"black","align":"left","baseline":"middle"},
"encoding":{"x":{"field":"x","type":"quantitative","axis":null},"y":{"field":"y","type":"quantitative","axis":null},"text":{"field":"t"}}
},
{
"data":{"values":[{"t":"8","x":395.8,"y":8.13}]},
"mark":{"type":"text","fontSize":10,"font":"Liberation Sans","color":"black","align":"center","baseline":"middle","angle":270},
"encoding":{"x":{"field":"x","type":"quantitative","axis":null},"y":{"field":"y","type":"quantitative","axis":null},"text":{"field":"t"}}
},
{
"data":{"name":"lab"},
"transform":[{"filter":"datum.g === 'h'"}],
"encoding":{"x":{"field":"x","type":"quantitative","axis":null},"y":{"field":"y","type":"quantitative","axis":null},"text":{"field":"t"}},
"layer":[
{"mark":{"type":"text","fontSize":15,"font":"Liberation Sans","color":"white","stroke":"white","strokeWidth":6,"strokeJoin":"round","align":"center","baseline":"middle","angle":0}},
{"mark":{"type":"text","fontSize":15,"font":"Liberation Sans","color":"black","align":"center","baseline":"middle","angle":0}}
]
},
{
"data":{"name":"lab"},
"transform":[{"filter":"datum.g === 'a32'"}],
"encoding":{"x":{"field":"x","type":"quantitative","axis":null},"y":{"field":"y","type":"quantitative","axis":null},"text":{"field":"t"}},
"layer":[
{"mark":{"type":"text","fontSize":15,"font":"Liberation Sans","color":"white","stroke":"white","strokeWidth":6,"strokeJoin":"round","align":"center","baseline":"middle","angle":32}},
{"mark":{"type":"text","fontSize":15,"font":"Liberation Sans","color":"black","align":"center","baseline":"middle","angle":32}}
]
},
{
"data":{"name":"lab"},
"transform":[{"filter":"datum.g === 'a55'"}],
"encoding":{"x":{"field":"x","type":"quantitative","axis":null},"y":{"field":"y","type":"quantitative","axis":null},"text":{"field":"t"}},
"layer":[
{"mark":{"type":"text","fontSize":15,"font":"Liberation Sans","color":"white","stroke":"white","strokeWidth":6,"strokeJoin":"round","align":"center","baseline":"middle","angle":55}},
{"mark":{"type":"text","fontSize":15,"font":"Liberation Sans","color":"black","align":"center","baseline":"middle","angle":55}}
]
},
{
"data":{"name":"lab"},
"transform":[{"filter":"datum.g === 'a68'"}],
"encoding":{"x":{"field":"x","type":"quantitative","axis":null},"y":{"field":"y","type":"quantitative","axis":null},"text":{"field":"t"}},
"layer":[
{"mark":{"type":"text","fontSize":15,"font":"Liberation Sans","color":"white","stroke":"white","strokeWidth":6,"strokeJoin":"round","align":"center","baseline":"middle","angle":68}},
{"mark":{"type":"text","fontSize":15,"font":"Liberation Sans","color":"black","align":"center","baseline":"middle","angle":68}}
]
},
{
"data":{"name":"lab"},
"transform":[{"filter":"datum.g === 'r'"}],
"encoding":{"x":{"field":"x","type":"quantitative","axis":null},"y":{"field":"y","type":"quantitative","axis":null},"text":{"field":"t"}},
"layer":[
{"mark":{"type":"text","fontSize":15,"font":"Liberation Sans","color":"white","stroke":"white","strokeWidth":6,"strokeJoin":"round","align":"center","baseline":"middle","angle":338}},
{"mark":{"type":"text","fontSize":15,"font":"Liberation Sans","color":"black","align":"center","baseline":"middle","angle":338}}
]
}
]
}
